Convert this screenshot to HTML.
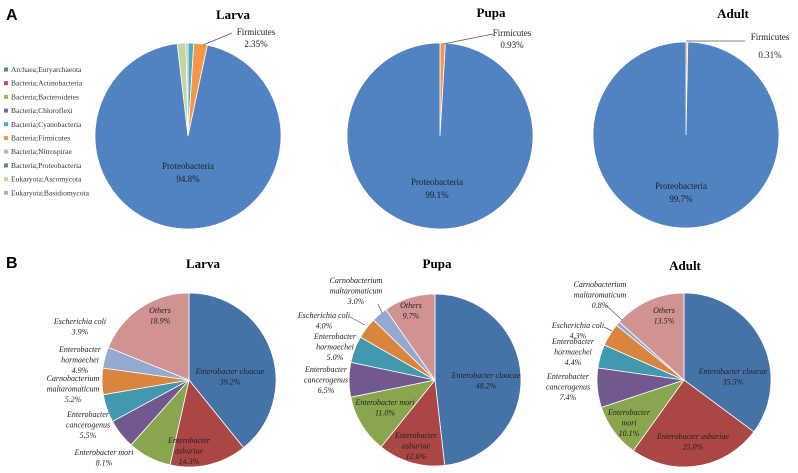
<!DOCTYPE html>
<html><head><meta charset="utf-8">
<style>
html,body{margin:0;padding:0;background:#fff;}
svg{display:block;font-family:"Liberation Serif",serif;}
.t{font-weight:bold;font-size:13px;}
.l{font-size:9px;fill:#222;}
.i{font-size:8px;font-style:italic;fill:#222;}
.lg{font-size:7.5px;fill:#333;}
</style></head>
<body>
<svg id="fig" width="798" height="473" viewBox="0 0 798 473">
<text x="6" y="20" font-family="Liberation Sans" font-weight="bold" font-size="16">A</text>
<text x="6" y="268" font-family="Liberation Sans" font-weight="bold" font-size="16">B</text>
<g id="legend"></g>
<g id="pies"></g>
<g id="labels"></g>
</svg>
<script>
const legendNames = ["Archaea;Euryarchaeota","Bacteria;Actinobacteria","Bacteria;Bacteroidetes","Bacteria;Chloroflexi","Bacteria;Cyanobacteria","Bacteria;Firmicutes","Bacteria;Nitrospirae","Bacteria;Proteobacteria","Eukaryota;Ascomycota","Eukaryota;Basidiomycota"];
const legendColors = ["#4f81bd","#c0504d","#9bbb59","#8064a2","#4bacc6","#f79646","#a5b8d8","#4f81bd","#c3d69b","#b0b0b0"];
// phylum pies (top row): cyanobacteria, firmicutes, proteobacteria, ascomycota, basidiomycota
const phylumColors = ["#4bacc6","#f79646","#5182c2","#c3d69b","#b7b7b7"];
const larvaPhylum = [1.0, 2.35, 94.8, 1.5, 0.35];
const pupaPhylum = [0, 0.93, 99.1, 0, 0];
const adultPhylum = [0, 0.31, 99.7, 0, 0];
// species pies (bottom row), clockwise from 12 o'clock
const speciesColors = ["#4572a7","#aa4643","#89a54e","#71588f","#4198af","#db843d","#93a9cf","#d19392"];
const larvaSpecies = [39.2, 14.3, 8.1, 5.5, 5.2, 4.9, 3.9, 18.9];
const pupaSpecies = [48.2, 12.6, 11.0, 6.5, 5.0, 4.0, 3.0, 9.7];
const adultSpecies = [35.5, 25.0, 10.1, 7.4, 4.4, 4.3, 0.8, 13.5];

const NS="http://www.w3.org/2000/svg";
const svg=document.getElementById('fig');
function mk(tag,attrs,parent){const e=document.createElementNS(NS,tag);for(const k in attrs)e.setAttribute(k,attrs[k]);(parent||svg).appendChild(e);return e;}

function pie(values,colors,cx,cy,r,name){
  const g=mk('g',{});
  
  
  const total=values.reduce((a,b)=>a+b,0);
  let a=-Math.PI/2;
  values.forEach((v,i)=>{
    if(v<=0)return;
    const a2=a+v/total*2*Math.PI;
    const x1=cx+r*Math.cos(a),y1=cy+r*Math.sin(a),x2=cx+r*Math.cos(a2),y2=cy+r*Math.sin(a2);
    const large=(a2-a)>Math.PI?1:0;
    const p=mk('path',{d:`M${cx},${cy}L${x1},${y1}A${r},${r} 0 ${large} 1 ${x2},${y2}Z`,fill:colors[i],stroke:'#fff','stroke-width':0.8},g);
    
    
    a=a2;
  });
}
pie(larvaPhylum,phylumColors,188,136,93,'larva-phylum-pie');
pie(pupaPhylum,phylumColors,440,136,93,'pupa-phylum-pie');
pie(adultPhylum,phylumColors,686,135,93,'adult-phylum-pie');
pie(larvaSpecies,speciesColors,189,380,87,'larva-species-pie');
pie(pupaSpecies,speciesColors,435,380,86,'pupa-species-pie');
pie(adultSpecies,speciesColors,684,380,87,'adult-species-pie');

// legend
const lg=document.getElementById('legend');
legendNames.forEach((n,i)=>{
  const y=72+i*13.7;
  const r=mk('rect',{x:4,y:y-4.5,width:4,height:4,fill:legendColors[i]},lg);
  
  
  const t=mk('text',{x:11,y:y,class:'lg'},lg);
  t.textContent=n;
  
  
});

// text labels
function txt(x,y,lines,cls,name,dy){
  const t=mk('text',{x:x,y:y,class:cls,'text-anchor':'middle'});
  
  
  lines.forEach((s,i)=>{const ts=mk('tspan',{x:x,dy:i?(dy||10.5):0},t);ts.textContent=s;});
}
function line(x1,y1,x2,y2){const l=mk('line',{x1,y1,x2,y2,stroke:'#555','stroke-width':0.7});}

txt(233,19,["Larva"],'t','larva-title-a');
txt(491,17,["Pupa"],'t','pupa-title-a');
txt(733,18,["Adult"],'t','adult-title-a');
txt(256,35,["Firmicutes","2.35%"],'l','larva-firmicutes-label',12);
line(203,45,232,33);
txt(512,36,["Firmicutes","0.93%"],'l','pupa-firmicutes-label',12);
line(443,44,493,34);
txt(770,40,["Firmicutes","0.31%"],'l','adult-firmicutes-label',18);
line(686,41,745,41);
txt(188,169,["Proteobacteria","94.8%"],'l','larva-proteobacteria-label',13);
txt(437,185,["Proteobacteria","99.1%"],'l','pupa-proteobacteria-label',13);
txt(681,189,["Proteobacteria","99.7%"],'l','adult-proteobacteria-label',13);

txt(203,268,["Larva"],'t','larva-title-b');
txt(437,268,["Pupa"],'t','pupa-title-b');
txt(685,270,["Adult"],'t','adult-title-b');

// larva species
txt(160,313,["Others","18.9%"],'i','larva-others-label');
txt(80,324,["Escherichia coli","3.9%"],'i','larva-ecoli-label');
txt(80,352,["Enterobacter","hormaechei","4.9%"],'i','larva-hormaechei-label');
txt(73,381,["Carnobacterium","maltaromaticum","5.2%"],'i','larva-carnobacterium-label');
txt(88,417,["Enterobacter","cancerogenus","5.5%"],'i','larva-cancerogenus-label');
txt(104,455,["Enterobacter mori","8.1%"],'i','larva-mori-label');
txt(230,374,["Enterobacter cloacae","39.2%"],'i','larva-cloacae-label');
txt(189,443,["Enterobacter","asburiae","14.3%"],'i','larva-asburiae-label');

// pupa species
txt(356,283,["Carnobacterium","maltaromaticum","3.0%"],'i','pupa-carnobacterium-label');
line(378,304,382,313);
txt(324,318,["Escherichia coli","4.0%"],'i','pupa-ecoli-label');
line(350,317,365,325);
txt(335,339,["Enterobacter","hormaechei","5.0%"],'i','pupa-hormaechei-label');
txt(326,372,["Enterobacter","cancerogenus","6.5%"],'i','pupa-cancerogenus-label');
txt(411,308,["Others","9.7%"],'i','pupa-others-label');
txt(486,378,["Enterobacter cloacae","48.2%"],'i','pupa-cloacae-label');
txt(385,405,["Enterobacter mori","11.0%"],'i','pupa-mori-label');
txt(416,438,["Enterobacter","asburiae","12.6%"],'i','pupa-asburiae-label');

// adult species
txt(600,287,["Carnobacterium","maltaromaticum","0.8%"],'i','adult-carnobacterium-label');
line(606,305,622,320);
txt(578,328,["Escherichia coli","4.3%"],'i','adult-ecoli-label');
line(604,327,612,331);
txt(573,344,["Enterobacter","hormaechei","4.4%"],'i','adult-hormaechei-label');
txt(568,379,["Enterobacter","cancerogenus","7.4%"],'i','adult-cancerogenus-label');
txt(664,313,["Others","13.5%"],'i','adult-others-label');
txt(733,374,["Enterobacter cloacae","35.5%"],'i','adult-cloacae-label');
txt(629,415,["Enterobacter","mori","10.1%"],'i','adult-mori-label');
txt(693,439,["Enterobacter asburiae","25.0%"],'i','adult-asburiae-label');
</script>
</body></html>
